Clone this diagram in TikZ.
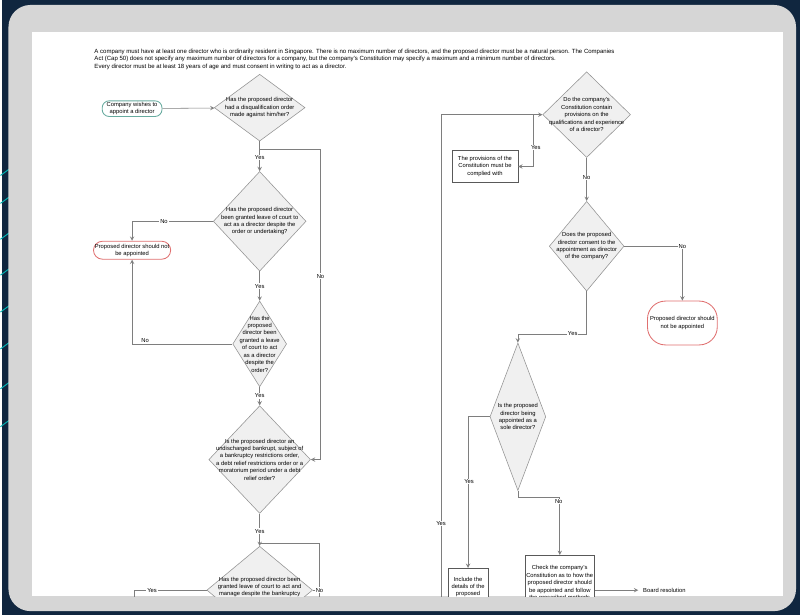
\documentclass[tikz,border=0pt]{standalone}
\usepackage{fontspec}
\setmainfont{Liberation Sans}
\usetikzlibrary{shapes.geometric, arrows, positioning}

\definecolor{navy}{HTML}{10263F}
\definecolor{bezel}{HTML}{D6D6D6}
\definecolor{wire}{HTML}{7E7E7E}
\definecolor{okgreen}{HTML}{67AB9F}
\definecolor{stopred}{HTML}{E07070}
\definecolor{qfill}{HTML}{F0F0F0}
\definecolor{qline}{HTML}{939393}

\newdimen\pxu \pxu=0.025cm
\newcommand{\smalltxt}{\fontsize{4.15}{5.3}\selectfont}

\tikzstyle{startstop} = [rectangle, rounded corners=7\pxu, draw=okgreen, line width=0.6pt, fill=white, align=center, font=\smalltxt, inner sep=1pt]
\tikzstyle{stopnode} = [rectangle, draw=stopred, line width=0.6pt, fill=white, align=center, font=\smalltxt, inner sep=1pt]
\tikzstyle{decision} = [diamond, draw=qline, fill=qfill, line width=0.4pt, align=center, font=\smalltxt, inner sep=-30pt]
\tikzstyle{process} = [rectangle, draw=black!65, line width=0.4pt, fill=white, align=center, font=\smalltxt, inner sep=1pt]
\tikzstyle{arrow} = [draw=wire, line width=0.4pt, ->, >=stealth]
\tikzstyle{line} = [draw=wire, line width=0.4pt]
\tikzstyle{lbl} = [fill=white, font=\smalltxt, inner sep=0.6pt]

\begin{document}
\begin{tikzpicture}[x=0.025cm, y=-0.025cm]
  % Screen and page
  \fill [navy] (0,0) rectangle (800,617);
  \foreach \y in {168,196,232,268,305,342,382,420}
    \draw [teal!60!cyan, line width=0.7pt] (-2,\y+8) -- (9,\y);
  \fill [bezel, rounded corners=22\pxu] (6,5) rectangle (796,613);
  \fill [white] (30,32) rectangle (783,598);

  \begin{scope}
  \clip (30,32) rectangle (783,598);

  % Intro text
  \node (hdr) [anchor=north west, align=left, inner sep=0, font=\fontsize{4.3}{5.2}\selectfont] at (92,49) {A company must have at least one director who is ordinarily resident in Singapore. There is no maximum number of directors, and the proposed director must be a natural person. The Companies\\Act (Cap 50) does not specify any maximum number of directors for a company, but the company's Constitution may specify a maximum and a minimum number of directors.\\Every director must be at least 18 years of age and must consent in writing to act as a director.};

  % Left column
  \node (start) [startstop, minimum width=60\pxu, minimum height=14\pxu] at (130,109) {Company wishes to\\appoint a director};
  \node (d1) [decision, minimum width=91\pxu, minimum height=67\pxu] at (258,108) {Has the proposed director\\had a disqualification order\\made against him/her?};
  \node (d2) [decision, minimum width=93\pxu, minimum height=100\pxu] at (258,222) {Has the proposed director\\been granted leave of court to\\act as a director despite the\\order or undertaking?};
  \node (no1) [stopnode, rounded corners=9\pxu, minimum width=76\pxu, minimum height=18\pxu] at (130,251) {Proposed director should not\\be appointed};
  \node (d3) [decision, minimum width=54\pxu, minimum height=86\pxu] at (258,345) {Has the\\proposed\\director been\\granted a leave\\of court to act\\as a director\\despite the\\order?};
  \node (d4) [decision, minimum width=102\pxu, minimum height=108\pxu] at (258,461) {Is the proposed director an\\undischarged bankrupt, subject of\\a bankruptcy restrictions order,\\a debt relief restrictions order or a\\moratorium period under a debt\\relief order?};
  \node (d5) [decision, minimum width=106\pxu, minimum height=88\pxu] at (258,592) {Has the proposed director been\\granted leave of court to act and\\manage despite the bankruptcy\\restrictions?};

  % Right column
  \node (d6) [decision, minimum width=88\pxu, minimum height=86\pxu] at (586,115) {Do the company's\\Constitution contain\\provisions on the\\qualifications and experience\\of a director?};
  \node (cons) [process, minimum width=66\pxu, minimum height=32\pxu] at (484,167) {The provisions of the\\Constitution must be\\complied with};
  \node (d7) [decision, minimum width=75\pxu, minimum height=90\pxu] at (586,247) {Does the proposed\\director consent to the\\appointment as director\\of the company?};
  \node (no2) [stopnode, rounded corners=18\pxu, minimum width=70\pxu, minimum height=44\pxu] at (682,324) {Proposed director should\\not be appointed};
  \node (d8) [decision, minimum width=56\pxu, minimum height=148\pxu] at (517,418) {Is the proposed\\director being\\appointed as a\\sole director?};
  \node (incl) [process, minimum width=40\pxu, minimum height=44\pxu] at (467,592) {Include the\\details of the\\proposed\\director};
  \node (chk) [process, minimum width=70\pxu, minimum height=56\pxu] at (559,585) {Check the company's\\Constitution as to how the\\proposed director should\\be appointed and follow\\the prescribed methods};
  \node (board) [font=\smalltxt] at (664,592) {Board resolution};

  % Loose ends below the page
  \coordinate (j1) at (319,150);
  \coordinate (j4) at (318,545);
  \coordinate (down4) at (318,625);
  \coordinate (down5) at (132,625);
  \coordinate (ret) at (440,625);

  % Arrows, left column
  \draw [arrow] (start) -- (d1);
  \draw [arrow] (d1.south) -- (d2.north);
  \draw [arrow] (d1.south) |- (j1) |- (d4.east);
  \draw [arrow] (d2.west) -| (no1.north);
  \draw [arrow] (d3.west) -| (no1.south);
  \draw [arrow] (d2.south) -- (d3.north);
  \draw [arrow] (d3.south) -- (d4.north);
  \draw [arrow] (d4.south) -- (d5.north);
  \draw [line] (j4 -| d4.south) -- (j4) -- (down4);
  \draw [line] (d5.east) -- (d5.east -| j4);
  \draw [arrow] (d5.west) -| (down5);

  % Arrows, right column
  \draw [arrow] (ret) |- (d6.west);
  \draw [arrow] ([xshift=-9\pxu]d6.west) |- (cons.east);
  \draw [arrow] (d6.south) -- (d7.north);
  \draw [arrow] (d7.east) -| (no2.north);
  \draw [arrow] (d7.south) -- ++(0,43) -| (d8.north);
  \draw [arrow] (d8.west) -| (incl.north);
  \draw [arrow] (d8.south) -- ++(0,7) -| (chk.north);
  \draw [arrow] (board -| chk.east) -- (board.west);

  % Yes / No labels
  \node (l1) [lbl] at (258,158) {Yes};
  \node (l2) [lbl] at (319,277) {No};
  \node (l3) [lbl] at (162,222) {No};
  \node (l4) [lbl] at (143,342) {No};
  \node (l5) [lbl] at (258,287) {Yes};
  \node (l6) [lbl] at (258,397) {Yes};
  \node (l7) [lbl] at (258,533) {Yes};
  \node (l8) [lbl] at (318,592) {No};
  \node (l9) [lbl] at (150,592) {Yes};
  \node (l10) [lbl] at (440,525) {Yes};
  \node (l11) [lbl] at (535,148) {Yes};
  \node (l12) [lbl] at (586,178) {No};
  \node (l13) [lbl] at (682,247) {No};
  \node (l14) [lbl] at (572,335) {Yes};
  \node (l15) [lbl] at (468,483) {Yes};
  \node (l16) [lbl] at (558,503) {No};
  \end{scope}
\end{tikzpicture}
\end{document}
